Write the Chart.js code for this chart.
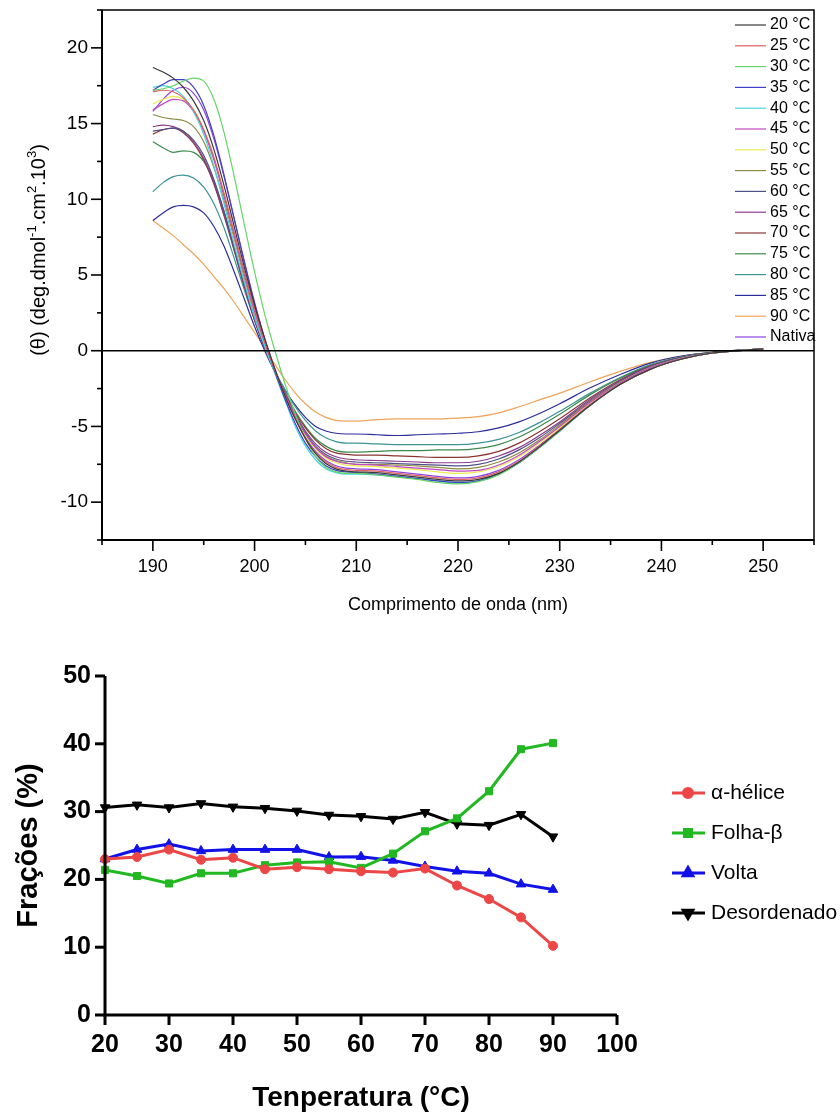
<!DOCTYPE html>
<html>
<head>
<meta charset="utf-8">
<script src="https://cdn.jsdelivr.net/npm/chart.js@4.4.0/dist/chart.umd.min.js"></script>
<style>
  html, body { margin: 0; padding: 0; background: #fff; }
  #wrap { position: relative; width: 840px; height: 1115px; overflow: hidden; background: #fff; }
  canvas { position: absolute; left: 0; }
  #cd { top: 0; }
  #frac { top: 625px; }
</style>
</head>
<body>
<div id="wrap">
  <canvas id="cd" width="840" height="625"></canvas>
  <canvas id="frac" width="840" height="490"></canvas>
</div>
<script>
// ---------- CD spectra: molar ellipticity (deg.dmol-1.cm2.10^3) vs wavelength (nm) ----------
const wavelengths = [190,191,192,193,194,195,196,197,198,199,200,201,202,203,204,205,206,207,208,209,210,212,214,216,218,220,222,224,226,228,230,233,236,239,242,245,250];

const cdLabels = ['20 °C','25 °C','30 °C','35 °C','40 °C','45 °C','50 °C','55 °C','60 °C','65 °C','70 °C','75 °C','80 °C','85 °C','90 °C','Nativa'];

const cd20 = [18.7,18.4,18.0,17.4,16.5,15.2,13.3,10.9,8.2,5.5,3.0,0.8,-1.2,-3.0,-4.5,-5.8,-6.8,-7.45,-7.8,-7.95,-8.0,-8.05,-8.2,-8.35,-8.5,-8.6,-8.5,-8.1,-7.35,-6.35,-5.25,-3.6,-2.2,-1.2,-0.55,-0.15,0.12];
const cd25 = [17.1,17.2,17.1,16.7,15.9,14.6,12.8,10.4,7.8,5.2,2.8,0.6,-1.3,-3.0,-4.5,-5.8,-6.75,-7.35,-7.7,-7.85,-7.9,-7.95,-8.1,-8.25,-8.4,-8.5,-8.4,-8.0,-7.3,-6.3,-5.2,-3.55,-2.2,-1.2,-0.55,-0.15,0.12];
const cd30 = [17.2,17.3,17.5,17.8,18.0,17.8,16.6,14.4,11.5,8.3,5.2,2.4,0.0,-2.2,-4.2,-5.8,-7.0,-7.7,-8.0,-8.1,-8.1,-8.2,-8.35,-8.5,-8.7,-8.8,-8.65,-8.2,-7.4,-6.4,-5.3,-3.6,-2.2,-1.2,-0.55,-0.15,0.12];
const cd35 = [17.2,17.6,17.9,17.9,17.4,16.2,14.2,11.6,8.7,5.8,3.1,0.7,-1.4,-3.2,-4.8,-6.1,-7.0,-7.6,-7.9,-8.0,-8.05,-8.15,-8.3,-8.45,-8.6,-8.7,-8.6,-8.15,-7.4,-6.4,-5.3,-3.6,-2.2,-1.2,-0.55,-0.15,0.12];
const cd40 = [17.4,17.5,17.3,16.8,15.8,14.3,12.2,9.7,7.0,4.5,2.2,0.3,-1.5,-3.3,-5.0,-6.3,-7.2,-7.8,-8.05,-8.15,-8.15,-8.2,-8.3,-8.45,-8.6,-8.75,-8.6,-8.15,-7.4,-6.4,-5.3,-3.6,-2.2,-1.2,-0.55,-0.15,0.12];
const cd45 = [15.9,16.3,16.6,16.5,15.8,14.5,12.6,10.2,7.6,5.0,2.6,0.5,-1.3,-2.9,-4.3,-5.5,-6.4,-7.0,-7.3,-7.45,-7.5,-7.55,-7.65,-7.75,-7.85,-7.95,-7.9,-7.55,-6.9,-6.0,-5.0,-3.4,-2.1,-1.1,-0.5,-0.15,0.12];
const cd50 = [16.3,16.6,16.8,16.6,15.9,14.6,12.7,10.3,7.6,5.0,2.6,0.5,-1.3,-3.0,-4.4,-5.6,-6.5,-7.1,-7.4,-7.55,-7.6,-7.65,-7.75,-7.85,-8.0,-8.1,-8.0,-7.65,-7.0,-6.1,-5.1,-3.45,-2.1,-1.1,-0.5,-0.15,0.12];
const cd55 = [15.6,15.4,15.3,15.2,14.8,13.8,12.1,9.9,7.4,4.8,2.5,0.4,-1.4,-3.0,-4.4,-5.5,-6.4,-6.95,-7.25,-7.4,-7.5,-7.5,-7.55,-7.6,-7.7,-7.8,-7.7,-7.35,-6.75,-5.9,-4.9,-3.35,-2.05,-1.1,-0.5,-0.15,0.12];
const cd60 = [14.5,14.6,14.7,14.5,13.9,12.9,11.3,9.2,6.8,4.4,2.2,0.3,-1.4,-2.9,-4.3,-5.4,-6.3,-6.85,-7.15,-7.3,-7.35,-7.4,-7.45,-7.5,-7.55,-7.6,-7.5,-7.15,-6.55,-5.75,-4.8,-3.3,-2.0,-1.05,-0.45,-0.12,0.12];
const cd65 = [14.8,14.9,14.8,14.5,13.8,12.7,11.1,9.0,6.7,4.3,2.1,0.2,-1.4,-2.9,-4.2,-5.3,-6.15,-6.7,-7.0,-7.15,-7.2,-7.25,-7.3,-7.35,-7.4,-7.4,-7.3,-6.95,-6.4,-5.6,-4.7,-3.2,-1.95,-1.0,-0.45,-0.12,0.12];
const cd70 = [14.3,14.6,14.7,14.4,13.7,12.6,11.0,8.9,6.6,4.2,2.0,0.2,-1.4,-2.8,-4.1,-5.1,-5.9,-6.45,-6.75,-6.85,-6.9,-6.9,-6.95,-7.0,-7.05,-7.05,-6.95,-6.65,-6.1,-5.35,-4.5,-3.1,-1.9,-1.0,-0.45,-0.12,0.12];
const cd75 = [13.8,13.4,13.1,13.2,13.1,12.5,11.2,9.2,6.8,4.4,2.1,0.2,-1.4,-2.8,-4.0,-5.0,-5.8,-6.3,-6.6,-6.7,-6.7,-6.65,-6.6,-6.6,-6.55,-6.55,-6.45,-6.2,-5.7,-5.0,-4.2,-2.9,-1.8,-0.95,-0.4,-0.1,0.12];
const cd80 = [10.5,11.1,11.5,11.6,11.4,10.8,9.7,8.1,6.1,4.0,2.0,0.2,-1.3,-2.6,-3.7,-4.6,-5.3,-5.75,-6.0,-6.1,-6.1,-6.15,-6.2,-6.2,-6.2,-6.2,-6.1,-5.85,-5.4,-4.75,-4.0,-2.8,-1.75,-0.9,-0.4,-0.1,0.12];
const cd85 = [8.6,9.1,9.5,9.6,9.5,9.1,8.2,6.9,5.2,3.4,1.6,0.0,-1.4,-2.6,-3.6,-4.4,-5.0,-5.3,-5.45,-5.5,-5.5,-5.55,-5.6,-5.55,-5.5,-5.45,-5.35,-5.1,-4.7,-4.15,-3.5,-2.45,-1.55,-0.8,-0.35,-0.1,0.12];
const cd90 = [8.6,8.1,7.6,7.0,6.4,5.7,4.9,4.1,3.2,2.2,1.2,0.2,-0.9,-1.9,-2.8,-3.5,-4.05,-4.4,-4.6,-4.65,-4.65,-4.55,-4.5,-4.5,-4.5,-4.45,-4.35,-4.1,-3.7,-3.25,-2.8,-2.05,-1.35,-0.75,-0.35,-0.1,0.1];
const cdNativa = [15.8,16.6,17.2,17.4,17.0,15.9,14.0,11.5,8.7,5.9,3.2,0.8,-1.2,-3.0,-4.5,-5.7,-6.65,-7.25,-7.6,-7.75,-7.8,-7.85,-8.0,-8.15,-8.3,-8.4,-8.3,-7.9,-7.2,-6.25,-5.2,-3.55,-2.15,-1.15,-0.5,-0.15,0.12];

const cdSeries = [cd20,cd25,cd30,cd35,cd40,cd45,cd50,cd55,cd60,cd65,cd70,cd75,cd80,cd85,cd90,cdNativa];
const cdColors = ['#3a3a3a','#e06060','#66d466','#4040cc','#4ad6e0','#c048c0','#eaea50','#8c8c44','#505088','#8a3c8a','#8a3434','#3c8a4c','#3c9494','#2c2c9c','#f0a458','#8c44e0'];

const cdXTicks = [190,200,210,220,230,240,250];
const cdYTicks = [-10,-5,0,5,10,15,20];

// ---------- Secondary-structure fractions (%) vs temperature (°C) ----------
const temperatures = [20,25,30,35,40,45,50,55,60,65,70,75,80,85,90];
const alphaHelix  = [23.0,23.3,24.4,22.9,23.2,21.5,21.8,21.5,21.2,21.0,21.6,19.1,17.1,14.4,10.2];
const betaSheet   = [21.4,20.5,19.4,20.9,20.9,22.1,22.5,22.6,21.7,23.8,27.1,29.0,33.0,39.2,40.1];
const turn        = [23.0,24.4,25.2,24.2,24.4,24.4,24.4,23.3,23.35,22.8,21.9,21.2,20.9,19.3,18.5];
const disordered  = [30.6,31.0,30.6,31.2,30.7,30.5,30.1,29.5,29.3,28.9,29.9,28.2,28.0,29.6,26.3];
const fracLabels  = ['\u03b1-hélice','Folha-\u03b2','Volta','Desordenado'];

const SANS = '"Liberation Sans", Arial, Helvetica, sans-serif';

// keeps the plot area exactly where the axes put it
function noScalePadding(s) {
  s.paddingTop = 0; s.paddingBottom = 0; s.paddingLeft = 0; s.paddingRight = 0;
}

// frame, zero line and tick marks of the spectra panel
const cdFrame = {
  id: 'cdFrame',
  afterDatasetsDraw(chart) {
    const { ctx, chartArea: a, scales: { x, y } } = chart;
    ctx.save();
    ctx.strokeStyle = '#000';
    ctx.lineWidth = 1.5;
    const y0 = y.getPixelForValue(0);
    ctx.beginPath(); ctx.moveTo(a.left, y0); ctx.lineTo(a.right, y0); ctx.stroke();
    ctx.strokeRect(a.left, a.top, a.right - a.left, a.bottom - a.top);
    ctx.lineWidth = 2;
    ctx.beginPath(); ctx.moveTo(a.left, a.top); ctx.lineTo(a.left, a.bottom); ctx.lineTo(a.right, a.bottom); ctx.stroke();
    ctx.lineWidth = 1.6;
    x.ticks.forEach(t => {
      const px = x.getPixelForValue(t.value);
      const len = cdXTicks.includes(t.value) ? 11 : 5;
      ctx.beginPath(); ctx.moveTo(px, a.bottom); ctx.lineTo(px, a.bottom + len); ctx.stroke();
    });
    y.ticks.forEach(t => {
      const py = y.getPixelForValue(t.value);
      const len = cdYTicks.includes(t.value) ? 11 : 5;
      ctx.beginPath(); ctx.moveTo(a.left, py); ctx.lineTo(a.left - len, py); ctx.stroke();
    });
    ctx.restore();
  }
};

// y-axis title with superscripts
const cdYTitle = {
  id: 'cdYTitle',
  afterDraw(chart) {
    const { ctx } = chart;
    const parts = [
      ['(\u03b8) (deg.dmol', false], ['-1', true], ['.cm', false], ['2', true], ['.10', false], ['3', true], [')', false]
    ];
    const big = 20, small = 13;
    ctx.save();
    ctx.fillStyle = '#000';
    ctx.textBaseline = 'alphabetic';
    let total = 0;
    parts.forEach(([s, sup]) => { ctx.font = (sup ? small : big) + 'px ' + SANS; total += ctx.measureText(s).width; });
    ctx.translate(45, 250);
    ctx.rotate(-Math.PI / 2);
    let cx = -total / 2;
    parts.forEach(([s, sup]) => {
      ctx.font = (sup ? small : big) + 'px ' + SANS;
      ctx.fillText(s, cx, sup ? -9 : 0);
      cx += ctx.measureText(s).width;
    });
    ctx.restore();
  }
};

// vertical legend in the upper right corner
const cdLegend = {
  id: 'cdLegend',
  afterDraw(chart) {
    const { ctx } = chart;
    ctx.save();
    ctx.font = '16px ' + SANS;
    ctx.textBaseline = 'middle';
    ctx.fillStyle = '#000';
    chart.data.datasets.forEach((ds, i) => {
      const yy = 25 + i * 20.8;
      ctx.strokeStyle = ds.borderColor;
      ctx.lineWidth = 1.2;
      ctx.beginPath(); ctx.moveTo(735, yy); ctx.lineTo(766, yy); ctx.stroke();
      ctx.fillText(ds.label, 770, yy);
    });
    ctx.restore();
  }
};

new Chart(document.getElementById('cd'), {
  type: 'line',
  data: {
    datasets: cdSeries.map((vals, i) => ({
      label: cdLabels[i],
      data: wavelengths.map((w, j) => ({ x: w, y: vals[j] })),
      borderColor: cdColors[i],
      borderWidth: 1.2,
      pointRadius: 0,
      fill: false,
      cubicInterpolationMode: 'monotone'
    }))
  },
  options: {
    responsive: false,
    animation: false,
    events: [],
    layout: { padding: { left: 0, right: 26, top: 10, bottom: 0 } },
    plugins: { legend: { display: false }, tooltip: { enabled: false } },
    scales: {
      x: {
        type: 'linear', min: 185, max: 255,
        border: { display: false },
        grid: { display: false, drawTicks: false, tickLength: 0 },
        ticks: {
          stepSize: 5, autoSkip: false, maxRotation: 0, padding: 16,
          color: '#000', font: { family: SANS, size: 18 },
          callback: v => cdXTicks.includes(v) ? String(v) : ''
        },
        title: {
          display: true, text: 'Comprimento de onda (nm)', color: '#000',
          font: { family: SANS, size: 18 }, padding: { top: 0, bottom: 9 }
        },
        afterFit: s => { s.height = 85; noScalePadding(s); }
      },
      y: {
        type: 'linear', min: -12.5, max: 22.5,
        border: { display: false },
        grid: { display: false, drawTicks: false, tickLength: 0 },
        ticks: {
          stepSize: 2.5, autoSkip: false, padding: 14,
          color: '#000', font: { family: SANS, size: 19 },
          callback: v => cdYTicks.includes(v) ? String(v) : ''
        },
        afterFit: s => { s.width = 102; noScalePadding(s); }
      }
    }
  },
  plugins: [cdFrame, cdYTitle, cdLegend]
});

// ---------- fractions panel ----------
const fracColors = ['rgb(236,70,70)','rgb(34,184,34)','rgb(18,18,232)','#000000'];
const fracStyles = [
  { pointStyle: 'circle', rotation: 0, radius: 4.5 },
  { pointStyle: 'rect', rotation: 0, radius: 5 },
  { pointStyle: 'triangle', rotation: 0, radius: 5.5 },
  { pointStyle: 'triangle', rotation: 180, radius: 5.5 }
];
const fracSeries = [alphaHelix, betaSheet, turn, disordered];

const fracAxes = {
  id: 'fracAxes',
  afterDatasetsDraw(chart) {
    const { ctx, chartArea: a, scales: { x, y } } = chart;
    ctx.save();
    ctx.strokeStyle = '#000';
    ctx.lineWidth = 3;
    ctx.lineCap = 'butt';
    ctx.beginPath(); ctx.moveTo(a.left, a.top); ctx.lineTo(a.left, a.bottom + 1.5); ctx.stroke();
    ctx.beginPath(); ctx.moveTo(a.left - 1.5, a.bottom); ctx.lineTo(a.right, a.bottom); ctx.stroke();
    x.ticks.forEach(t => {
      const px = x.getPixelForValue(t.value);
      ctx.beginPath(); ctx.moveTo(px, a.bottom); ctx.lineTo(px, a.bottom + 10); ctx.stroke();
    });
    y.ticks.forEach(t => {
      const py = y.getPixelForValue(t.value);
      ctx.beginPath(); ctx.moveTo(a.left, py); ctx.lineTo(a.left - 10, py); ctx.stroke();
    });
    ctx.restore();
  }
};

const fracLegend = {
  id: 'fracLegend',
  afterDraw(chart) {
    const { ctx } = chart;
    ctx.save();
    ctx.font = '21px ' + SANS;
    ctx.textBaseline = 'middle';
    chart.data.datasets.forEach((ds, i) => {
      const yy = 168 + i * 40;
      ctx.strokeStyle = ds.borderColor;
      ctx.fillStyle = ds.backgroundColor;
      ctx.lineWidth = 3;
      ctx.beginPath(); ctx.moveTo(672, yy); ctx.lineTo(705, yy); ctx.stroke();
      Chart.helpers.drawPoint(ctx, {
        pointStyle: ds.pointStyle, rotation: ds.pointRotation, radius: ds.pointRadius, borderWidth: 1
      }, 688, yy);
      ctx.fillStyle = '#000';
      ctx.fillText(ds.label, 711, yy);
    });
    ctx.restore();
  }
};

new Chart(document.getElementById('frac'), {
  type: 'line',
  data: {
    datasets: fracSeries.map((vals, i) => ({
      label: fracLabels[i],
      data: temperatures.map((t, j) => ({ x: t, y: vals[j] })),
      borderColor: fracColors[i],
      backgroundColor: fracColors[i],
      borderWidth: 3,
      pointStyle: fracStyles[i].pointStyle,
      pointRotation: fracStyles[i].rotation,
      pointRadius: fracStyles[i].radius,
      pointBorderWidth: 1,
      tension: 0,
      fill: false,
      clip: false
    }))
  },
  options: {
    responsive: false,
    animation: false,
    events: [],
    layout: { padding: { left: 0, right: 223, top: 51, bottom: 0 } },
    plugins: { legend: { display: false }, tooltip: { enabled: false } },
    scales: {
      x: {
        type: 'linear', min: 20, max: 100,
        border: { display: false },
        grid: { display: false, drawTicks: false, tickLength: 0 },
        ticks: {
          stepSize: 10, autoSkip: false, maxRotation: 0, padding: 15,
          color: '#000', font: { family: SANS, size: 25, weight: 'bold' }
        },
        title: {
          display: true, text: 'Tenperatura (°C)', color: '#000',
          font: { family: SANS, size: 28, weight: 'bold' }, padding: { top: 0, bottom: 0 }
        },
        afterFit: s => { s.height = 100; noScalePadding(s); }
      },
      y: {
        type: 'linear', min: 0, max: 50,
        border: { display: false },
        grid: { display: false, drawTicks: false, tickLength: 0 },
        ticks: {
          stepSize: 10, autoSkip: false, padding: 14,
          color: '#000', font: { family: SANS, size: 25, weight: 'bold' }
        },
        title: {
          display: true, text: 'Frações (%)', color: '#000',
          font: { family: SANS, size: 29, weight: 'bold' }, padding: { top: 12, bottom: 0 }
        },
        afterFit: s => { s.width = 105; noScalePadding(s); }
      }
    }
  },
  plugins: [fracAxes, fracLegend]
});
</script>
</body>
</html>
